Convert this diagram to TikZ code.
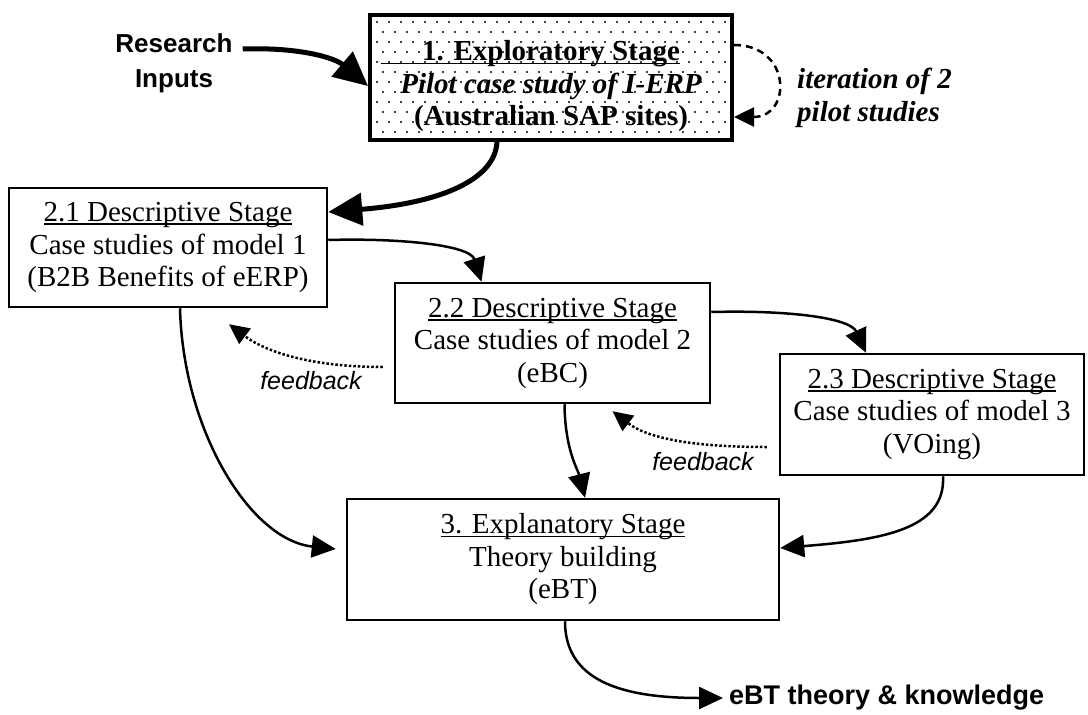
\documentclass[tikz,border=0pt]{standalone}
\usepackage{fontspec}
\setmainfont{Liberation Serif}
\newfontfamily\sansf{Liberation Sans}
\usetikzlibrary{arrows.meta,calc}
% heavy underline for stage titles
\newsavebox\ulbox
\newcommand{\uln}[1]{\sbox\ulbox{#1}\rlap{\rule[-3.5pt]{\wd\ulbox}{1.6pt}}\usebox\ulbox}
\begin{document}
\begin{tikzpicture}[x=1pt,y=-1pt,
  stagebox/.style={draw, line width=2.5pt, inner sep=0pt, align=center,
    font=\fontsize{29}{32.5}\selectfont},
  dotfill/.style={path picture={
    \foreach \j in {0,...,11}{\foreach \i in {0,...,30}{
      \fill ($(path picture bounding box.north west)+({7+12*\i+6*mod(\j,2)},{7+10*\j})$) circle[radius=1.2pt];}}}},
  thinarrow/.style={line width=2.5pt, -{Triangle[length=24pt,width=22pt]}},
  thickarrow/.style={line width=5pt, -{Triangle[length=34pt,width=32pt]}},
  fbarrow/.style={line width=2.5pt, dash pattern=on 2.5pt off 2pt, -{Triangle[length=20pt,width=19pt]}},
  iterarrow/.style={line width=2.5pt, dash pattern=on 7pt off 5pt, -{Triangle[length=20pt,width=19pt]}},
  sidelabel/.style={inner sep=0pt, font=\sansf\itshape\fontsize{25}{28}\selectfont},
  biglabel/.style={inner sep=0pt, align=center, font=\sansf\bfseries\fontsize{26}{35}\selectfont}
]
\useasboundingbox (0,0) rectangle (1088,715);

% stage boxes
\node[stagebox, line width=4pt, dotfill, minimum width=362pt, minimum height=125pt] (t) at (551,77.5)
  {\rule{0pt}{38pt}\bfseries\llap{\rule[-3.5pt]{41pt}{1.6pt}}\uln{1. Exploratory Stage}\\\bfseries\itshape Pilot case study of I-ERP\\\bfseries (Australian SAP sites)};
\node[stagebox, minimum width=318pt, minimum height=119pt] (d1) at (168,247.5)
  {\uln{2.1 Descriptive Stage}\\Case studies of model 1\\(B2B Benefits of eERP)};
\node[stagebox, minimum width=315pt, minimum height=120pt] (d2) at (552.5,343)
  {\uln{2.2 Descriptive Stage}\\Case studies of model 2\\(eBC)};
\node[stagebox, minimum width=304pt, minimum height=121pt] (d3) at (932,414.5)
  {\uln{2.3 Descriptive Stage}\\Case studies of model 3\\(VOing)};
\node[stagebox, minimum width=432pt, minimum height=121pt] (e) at (563,559.5)
  {\uln{3. Explanatory Stage}\\Theory building\\(eBT)};

% free-standing labels
\node[biglabel] (ri) at (174,63) {Research\\Inputs};
\node[inner sep=0pt, anchor=west, align=left, font=\bfseries\itshape\fontsize{29}{32.5}\selectfont] (it) at (797,98)
  {iteration of 2\\pilot studies};
\node[sidelabel] (fb1) at (311,381) {feedback};
\node[sidelabel] (fb2) at (703,462) {feedback};
\node[inner sep=0pt, anchor=west, font=\sansf\bfseries\fontsize{27}{30}\selectfont] (out) at (729,698)
  {eBT theory \& knowledge};

% connectors
\coordinate (rstart) at ($(ri.north east)+(10,0)$);
\draw[thickarrow] (rstart |- 0,49) .. controls (300,47) and (335,58) .. (t.west |- 0,86);
\draw[iterarrow] (t.east |- 0,45) .. controls (792,45) and (792,117) .. (t.east |- 0,117);
\draw[thickarrow] ($(t.south)+(-54,0)$) .. controls (495,180) and (440,203) .. (d1.east |- 0,212);
\draw[thinarrow] (d1.east |- 0,240) .. controls (400,238) and (470,245) .. ($(d2.north)+(-71,0)$);
\draw[thinarrow] (d2.east |- 0,312) .. controls (790,310) and (850,318) .. ($(d3.north)+(-66,0)$);
\draw[thinarrow] ($(d1.south)+(12,0)$) .. controls (183,430) and (250,540) .. ($(e.west |- 0,549)+(-10,0)$);
\draw[thinarrow] ($(d2.south)+(12,0)$) .. controls (565,450) and (578,470) .. ($(e.north)+(22,0)$);
\draw[thinarrow] ($(d3.south)+(11,0)$) .. controls (946,530) and (880,540) .. (e.east |- 0,548);
\draw[fbarrow] ($(d2.west |- 0,367)+(-11,0)$) .. controls (320,367) and (270,355) .. ($(d1.south)+(61,16)$);
\draw[fbarrow] ($(d3.west |- 0,447)+(-12,0)$) .. controls (700,447) and (650,440) .. ($(d2.south)+(60,7)$);
\draw[thinarrow] ($(e.south)+(2,0)$) .. controls (565,680) and (620,698) .. ($(out.west)+(-6,0)$);
\end{tikzpicture}
\end{document}
